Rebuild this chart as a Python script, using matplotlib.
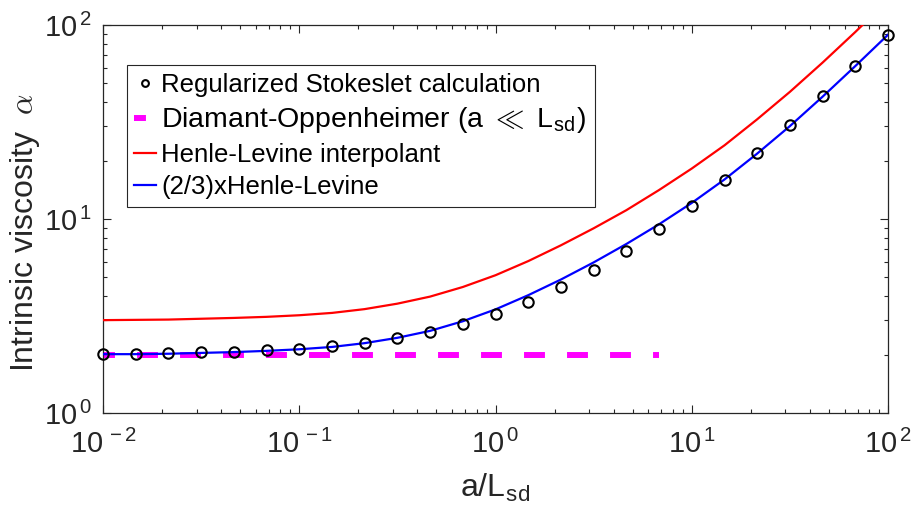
import numpy as np
import matplotlib.pyplot as plt
from matplotlib.ticker import LogLocator, NullFormatter, FuncFormatter

plt.rcParams['font.family'] = ['Liberation Sans', 'DejaVu Sans']
plt.rcParams['mathtext.fontset'] = 'cm'

# a/L_sd sample points (1/6 decade spacing)
ratio = [0.01, 0.0147, 0.0215, 0.0316, 0.0464, 0.0681, 0.1, 0.147, 0.215,
         0.316, 0.464, 0.681, 1.0, 1.47, 2.15, 3.16, 4.64, 6.81, 10.0, 14.7,
         21.5, 31.6, 46.4, 68.1, 100.0]

# regularized Stokeslet calculation (circles)
stokeslet = [2.01, 2.02, 2.03, 2.05, 2.07, 2.10, 2.14, 2.22, 2.30, 2.44, 2.61,
             2.87, 3.23, 3.75, 4.45, 5.44, 6.87, 8.88, 11.7, 15.9, 22.0, 30.6,
             43.2, 61.5, 88.5]

# Henle-Levine interpolant
henle = [3.01, 3.02, 3.03, 3.06, 3.09, 3.13, 3.19, 3.28, 3.43, 3.66, 3.98,
         4.46, 5.13, 6.07, 7.31, 8.95, 11.1, 14.1, 18.2, 24.0, 32.6, 45.2,
         64.0, 92.0, 134.0]

# (2/3) x Henle-Levine
henle23 = [2.01, 2.01, 2.02, 2.04, 2.06, 2.09, 2.13, 2.19, 2.29, 2.44, 2.65,
           2.97, 3.42, 4.05, 4.87, 5.97, 7.43, 9.39, 12.1, 16.0, 21.7, 30.1,
           42.7, 61.4, 89.1]

# Diamant-Oppenheimer small-a limit
diamant_x = [0.01, 6.81]
diamant_y = [2.0, 2.0]

dark = (0.15, 0.15, 0.15)

fig = plt.figure(figsize=(9.14, 5.12), dpi=100)
ax = fig.add_axes([0.1127, 0.1934, 0.8589, 0.7578])

ax.plot(diamant_x, diamant_y, color=(1, 0, 1), lw=4.3,
        linestyle=(1.5, (3.5, 3.7)),
        label=r'Diamant-Oppenheimer (a $\ll$ L$_{\mathregular{sd}}$)', zorder=2)
ax.plot(ratio, henle, color='r', lw=1.6, label='Henle-Levine interpolant', zorder=3)
ax.plot(ratio, henle23, color='b', lw=1.6, label='(2/3)xHenle-Levine', zorder=4)
ax.plot(ratio, stokeslet, 'o', mfc='none', mec='k', ms=7.5, mew=1.5,
        label='Regularized Stokeslet calculation', zorder=5, clip_on=False)

ax.set_xscale('log')
ax.set_yscale('log')
ax.set_xlim(1e-2, 1e2)
ax.set_ylim(1, 100)

fmt = FuncFormatter(lambda v, p: r'$\mathregular{10^{\,%d}}$' % round(np.log10(v)))
ax.xaxis.set_major_locator(LogLocator(base=10, numticks=10))
ax.yaxis.set_major_locator(LogLocator(base=10, numticks=10))
ax.xaxis.set_minor_locator(LogLocator(base=10, subs=np.arange(2, 10), numticks=20))
ax.yaxis.set_minor_locator(LogLocator(base=10, subs=np.arange(2, 10), numticks=20))
ax.xaxis.set_major_formatter(fmt)
ax.yaxis.set_major_formatter(fmt)
ax.xaxis.set_minor_formatter(NullFormatter())
ax.yaxis.set_minor_formatter(NullFormatter())

ax.tick_params(which='both', direction='in', top=True, right=True, color=dark,
               labelcolor=dark, labelsize=21, width=0.8)
ax.tick_params(which='major', length=5.5)
ax.tick_params(which='minor', length=3)
ax.tick_params(axis='x', pad=12)
ax.tick_params(axis='y', pad=8)
for s in ax.spines.values():
    s.set_color(dark)
    s.set_linewidth(0.9)

ax.set_xlabel(r'a/L$_{\mathregular{sd}}$', fontsize=23, color=dark, labelpad=9)
ax.set_ylabel(r'Intrinsic viscosity  $\alpha$', fontsize=23, color=dark, labelpad=1)
ax.yaxis.label.set_y(0.465)

h, l = ax.get_legend_handles_labels()
order = [3, 0, 1, 2]
leg = ax.legend([h[i] for i in order], [l[i] for i in order], loc='upper left',
                bbox_to_anchor=(0.030, 0.897), borderaxespad=0, fontsize=18.5,
                handlelength=0.85, handletextpad=0.2, labelspacing=0.32,
                borderpad=0.3, fancybox=False, framealpha=1, markerscale=0.65)
leg.get_texts()[1].set_fontsize(20.5)
leg.get_frame().set_edgecolor(dark)
leg.get_frame().set_linewidth(0.8)

fig.savefig('out.png', dpi=100)
